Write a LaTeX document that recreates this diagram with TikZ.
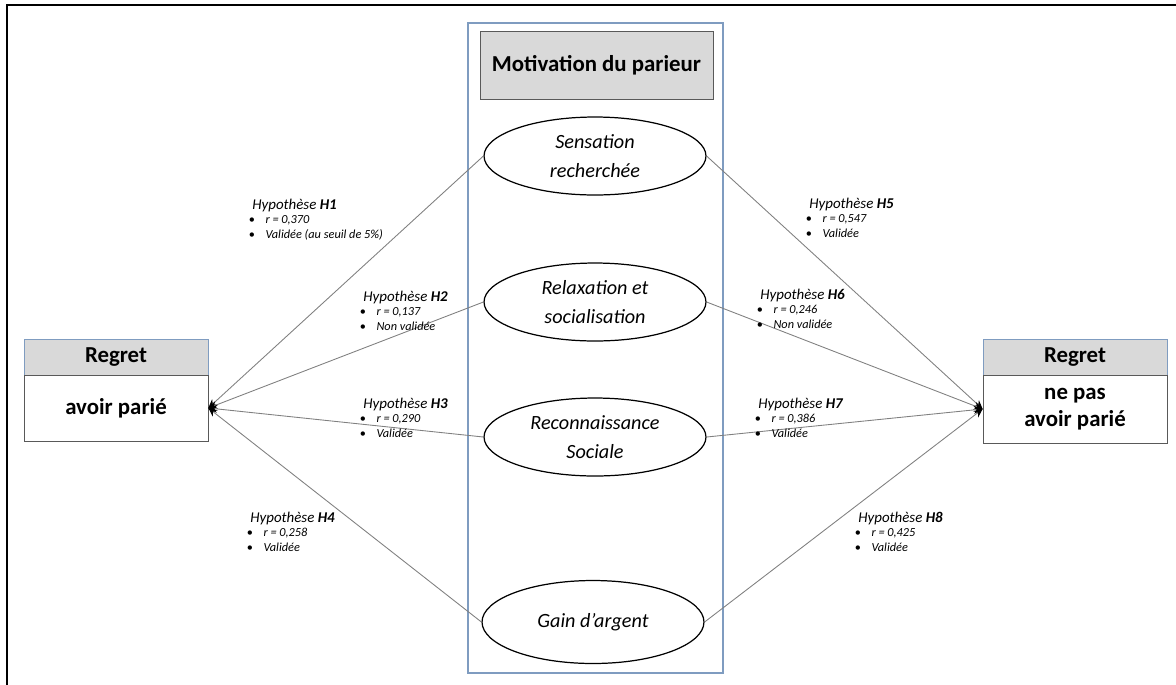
\documentclass[tikz,border=0pt]{standalone}
\usepackage{fontspec}
\setmainfont{Carlito}
\usetikzlibrary{positioning, arrows.meta, shapes.geometric}
\definecolor{Cadre}{HTML}{7F9CC0}
\definecolor{Gris}{HTML}{D9D9D9}
\definecolor{Bord}{HTML}{595959}
\definecolor{Lien}{HTML}{808080}
\tikzset{
    titre/.style={rectangle, draw=Bord, fill=Gris, font=\bfseries\fontsize{13}{15}\selectfont, inner sep=0pt},
    entete/.style={rectangle, draw=Cadre, fill=Gris, font=\bfseries\fontsize{13}{15}\selectfont, minimum width=3.68cm, minimum height=0.72cm, inner sep=0pt},
    corps/.style={rectangle, draw=Bord, fill=white, align=center, font=\bfseries\fontsize{13}{16.5}\selectfont, minimum width=3.68cm, inner sep=0pt},
    motif/.style={ellipse, draw=black, line width=0.7pt, align=center, font=\itshape\fontsize{11.5}{16.5}\selectfont, minimum width=4.44cm, minimum height=1.56cm, inner sep=0pt},
    lien/.style={-{Stealth[length=5pt, width=4.5pt, black]}, color=Lien, line width=0.5pt},
    hyp/.style={anchor=base west, align=left, inner sep=0pt, font=\itshape\fontsize{7}{8}\selectfont},
}
% etiquette d'une hypothese
\newcommand{\hyptxt}[3]{{\fontsize{8.5}{8.5}\selectfont Hypothèse \textbf{#1}}\\[0.5pt]
    \hspace{-2pt}{\upshape\textbullet}\hspace{6pt}#2\\
    \hspace{-2pt}{\upshape\textbullet}\hspace{6pt}#3}

\begin{document}
\begin{tikzpicture}[x=0.02cm, y=-0.02cm]
    \useasboundingbox (0,0) rectangle (1176,684);

    % Cadre general
    \draw[line width=1.2pt] (7,700) -- (7,5) -- (1190,5);

    % Bloc central
    \draw[Cadre, line width=0.8pt] (468,23) rectangle (723,673);
    \node[titre, minimum width=4.66cm, minimum height=1.36cm] (motiv) at (596.5,65) {Motivation du parieur};

    % Motivations
    \node[motif] (sens) at (595,156) {Sensation\\recherchée};
    \node[motif] (relax) at (595,302) {Relaxation et\\socialisation};
    \node[motif] (recon) at (595,437) {Reconnaissance\\Sociale};
    \node[motif, minimum height=1.66cm] (gain) at (593,622) {Gain d’argent};

    % Regrets
    \node[entete] (regA) at (116,357) {Regret};
    \node[corps, minimum height=1.32cm] (pariA) at (116,408) {avoir parié};
    \node[entete] (regB) at (1075,357) {Regret};
    \node[corps, minimum height=1.36cm] (pariB) at (1075,409) {\raisebox{-3pt}{\shortstack{ne pas\\[1pt]avoir parié}}};

    % Liens
    \draw[lien] (sens.west) -- (pariA.east);
    \draw[lien] (relax.west) -- (pariA.east);
    \draw[lien] (recon.west) -- (pariA.east);
    \draw[lien] (gain.west) -- (pariA.east);
    \draw[lien] (sens.east) -- (pariB.west);
    \draw[lien] (relax.east) -- (pariB.west);
    \draw[lien] (recon.east) -- (pariB.west);
    \draw[lien] (gain.east) -- (pariB.west);

    % Hypotheses
    \node[hyp] (h1) at (252,238) {\hyptxt{H1}{r = 0,370}{Validée (au seuil de 5\%)}};
    \node[hyp] (h2) at (363,330) {\hyptxt{H2}{r = 0,137}{Non validée}};
    \node[hyp] (h3) at (363,437) {\hyptxt{H3}{r = 0,290}{Validée}};
    \node[hyp] (h4) at (250,551) {\hyptxt{H4}{r = 0,258}{Validée}};
    \node[hyp] (h5) at (809,237) {\hyptxt{H5}{r = 0,547}{Validée}};
    \node[hyp] (h6) at (760,328) {\hyptxt{H6}{r = 0,246}{Non validée}};
    \node[hyp] (h7) at (758,437) {\hyptxt{H7}{r = 0,386}{Validée}};
    \node[hyp] (h8) at (858,551) {\hyptxt{H8}{r = 0,425}{Validée}};
\end{tikzpicture}
\end{document}
